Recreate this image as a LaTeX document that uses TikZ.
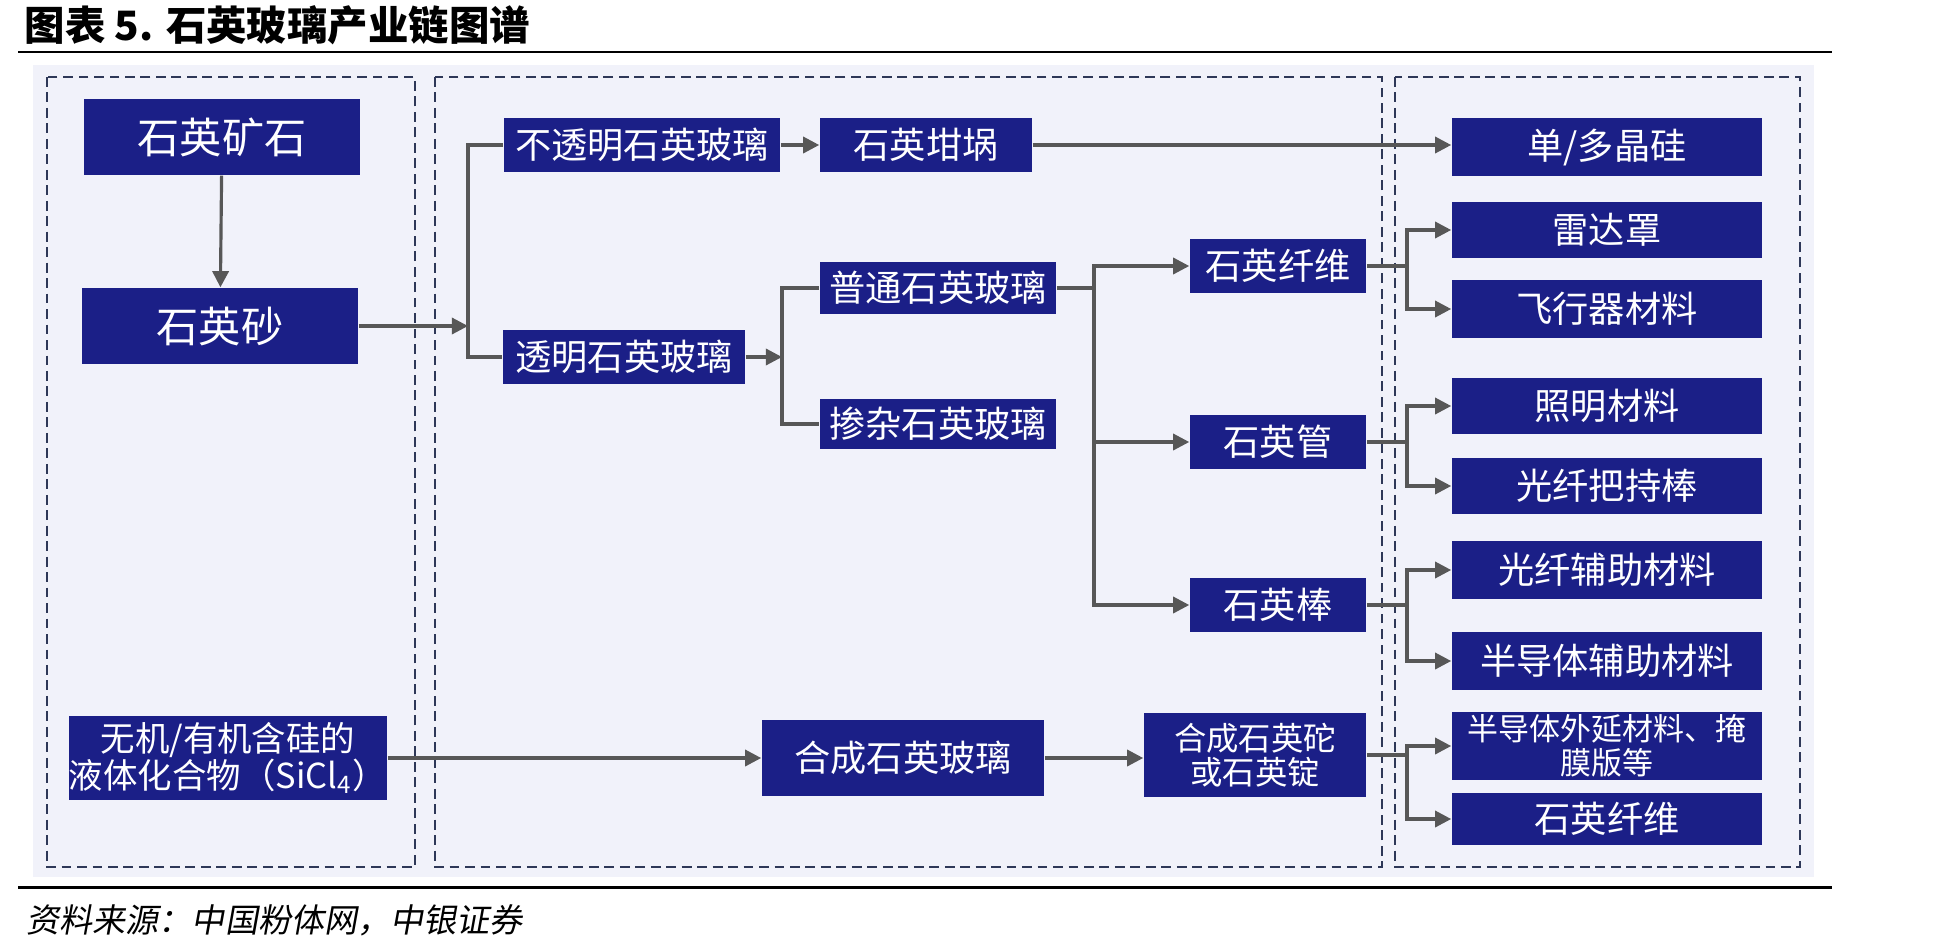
\documentclass[tikz,border=0pt]{standalone}
\usepackage{fontspec}
\setmainfont{Noto Sans CJK SC}
\newfontfamily\kaiti[FakeSlant=0.18]{Noto Sans CJK SC}
\usetikzlibrary{arrows.meta}
\definecolor{boxblue}{HTML}{1B1F87}
\definecolor{panelbg}{HTML}{F1F2FA}
\definecolor{linegray}{HTML}{575757}
\definecolor{dashnavy}{HTML}{2E3858}

\begin{document}
\begin{tikzpicture}[x=0.01cm, y=-0.01cm,
    box/.style={fill=boxblue, text=white, inner sep=0, align=center, font=\fontsize{10.3}{12}\selectfont},
    bigbox/.style={box, minimum width=2.76cm, minimum height=.76cm, font=\fontsize{12}{14}\selectfont},
    midbox/.style={box, minimum width=1.76cm, minimum height=.54cm},
    endbox/.style={box, minimum width=3.1cm},
    panel/.style={draw=dashnavy, line width=.6pt, dash pattern=on 2.8pt off 1.6pt},
    link/.style={draw=linegray, line width=.9pt},
    arr/.style={link, -{Triangle[length=4.6pt,width=4.6pt]}}]
  \useasboundingbox (0,0) rectangle (1948,945);

  % title, rules and source
  \node [anchor=west, inner sep=0, font=\fontsize{11.5}{13}\selectfont\bfseries] (title) at (24,25) {图表 5. 石英玻璃产业链图谱};
  \draw [line width=.85pt] (18,52) -- (1832,52);
  \draw [line width=.85pt] (18,887) -- (1832,887);
  \node [anchor=west, inner sep=0, font=\fontsize{9.4}{11}\kaiti] (src) at (26,920) {资料来源：中国粉体网，中银证券};

  % panels
  \fill [panelbg] (33,65) rectangle (1814,877);
  \draw [panel] (47,77) rectangle (415,867);
  \draw [panel] (435,77) rectangle (1382,867);
  \draw [panel] (1395,77) rectangle (1800,867);

  % raw materials
  \node [bigbox] (ore) at (222,137) {石英矿石};
  \node [bigbox] (sand) at (220,326) {石英砂};
  \node [box, minimum width=3.1cm, minimum height=.84cm, font=\fontsize{9.8}{10.6}\selectfont] (sicl) at (228,758) {无机/有机含硅的\\液体化合物（SiCl\textsubscript{4}）};

  % glass
  \node [box, minimum width=2.76cm, minimum height=.54cm] (opq) at (642,145) {不透明石英玻璃};
  \node [box, minimum width=2.12cm, minimum height=.54cm] (cruc) at (926,145) {石英坩埚};
  \node [box, minimum width=2.42cm, minimum height=.54cm] (trn) at (624,357) {透明石英玻璃};
  \node [box, minimum width=2.36cm, minimum height=.52cm] (ord) at (938,288) {普通石英玻璃};
  \node [box, minimum width=2.36cm, minimum height=.5cm] (dop) at (938,424) {掺杂石英玻璃};
  \node [midbox] (fib) at (1278,266) {石英纤维};
  \node [midbox] (tube) at (1278,442) {石英管};
  \node [midbox] (rod) at (1278,605) {石英棒};
  \node [box, minimum width=2.82cm, minimum height=.76cm] (syn) at (903,758) {合成石英玻璃};
  \node [box, minimum width=2.22cm, minimum height=.84cm, font=\fontsize{9.2}{9.8}\selectfont] (ingot) at (1255,755) {合成石英砣\\或石英锭};

  % applications
  \node [endbox, minimum height=.58cm] (si) at (1607,147) {单/多晶硅};
  \node [endbox, minimum height=.55cm] (radar) at (1607,230) {雷达罩};
  \node [endbox, minimum height=.57cm] (air) at (1607,309) {飞行器材料};
  \node [endbox, minimum height=.55cm] (light) at (1607,406) {照明材料};
  \node [endbox, minimum height=.56cm] (hold) at (1607,486) {光纤把持棒};
  \node [endbox, minimum height=.58cm] (aux) at (1607,570) {光纤辅助材料};
  \node [endbox, minimum height=.58cm] (semi) at (1607,661) {半导体辅助材料};
  \node [endbox, minimum height=.68cm, font=\fontsize{8.8}{9.6}\selectfont] (epi) at (1607,746) {半导体外延材料、掩\\膜版等};
  \node [endbox, minimum height=.52cm] (qfib) at (1607,819) {石英纤维};

  % junctions
  \coordinate (j1) at (468,326);
  \coordinate (j2) at (782,357);
  \coordinate (j3) at (1094,288);
  \coordinate (j4) at (1407,266);
  \coordinate (j5) at (1407,442);
  \coordinate (j6) at (1407,605);
  \coordinate (j7) at (1407,755);

  \draw [arr] (ore) -- (sand);
  \draw [arr] (sand) -- (j1);
  \draw [link] (opq.west) -| (j1) |- (trn.west);
  \draw [arr] (opq) -- (cruc);
  \draw [arr] (cruc.east) -- (cruc.east -| si.west);
  \draw [arr] (trn) -- (j2);
  \draw [link] (ord.west) -| (j2) |- (dop.west);
  \draw [link] (ord.east) -- (j3);
  \draw [arr] (j3) |- (fib.west);
  \draw [arr] (j3) |- (rod.west);
  \draw [arr] (j3 |- tube) -- (tube.west);
  \draw [link] (fib.east) -- (j4);
  \draw [arr] (j4) |- (radar.west);
  \draw [arr] (j4) |- (air.west);
  \draw [link] (tube.east) -- (j5);
  \draw [arr] (j5) |- (light.west);
  \draw [arr] (j5) |- (hold.west);
  \draw [link] (rod.east) -- (j6);
  \draw [arr] (j6) |- (aux.west);
  \draw [arr] (j6) |- (semi.west);
  \draw [arr] (sicl) -- (syn);
  \draw [arr] (syn) -- (ingot.west |- syn);
  \draw [link] (ingot.east) -- (j7);
  \draw [arr] (j7) |- (epi.west);
  \draw [arr] (j7) |- (qfib.west);
\end{tikzpicture}
\end{document}
